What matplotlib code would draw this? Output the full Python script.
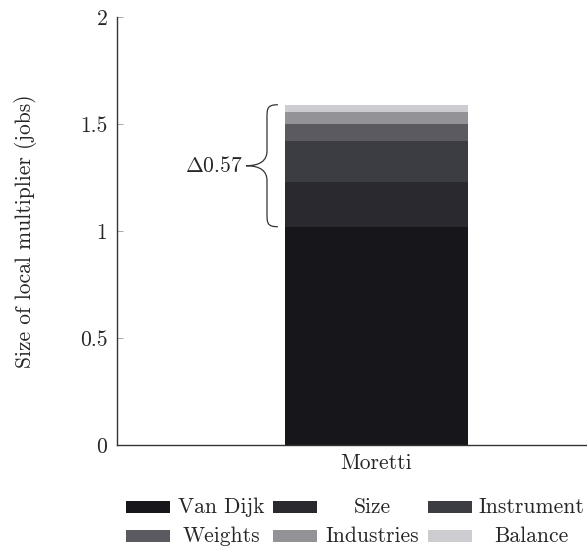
import matplotlib
matplotlib.use("Agg")
import matplotlib.pyplot as plt
from matplotlib.patches import Rectangle, PathPatch
from matplotlib.path import Path
import numpy as np

plt.rcParams['font.family'] = ['cmr10']
plt.rcParams['mathtext.fontset'] = 'cm'
plt.rcParams['axes.unicode_minus'] = False
plt.rcParams['axes.formatter.use_mathtext'] = True

# stacked decomposition of the local multiplier
category = "Moretti"
components = ["Van Dijk", "Size", "Instrument", "Weights", "Industries", "Balance"]
values = [1.02, 0.21, 0.19, 0.08, 0.055, 0.035]
colors = ["#16161b", "#29292f", "#3c3c43", "#5a5a60", "#939397", "#cdcdd1"]
delta_label = r"$\Delta$0.57"

yticks = [0, 0.5, 1, 1.5, 2]
yticklabels = ["0", "0.5", "1", "1.5", "2"]

ink = "#262626"
fs = 15.5

fig = plt.figure(figsize=(5.87, 5.5), dpi=100)
ax = fig.add_axes([117 / 587, 105 / 550, 519 / 587, 428 / 550])

bottoms = np.concatenate([[0], np.cumsum(values)[:-1]])
for v, b, c in zip(values, bottoms, colors):
    ax.bar(0, v, bottom=b, width=0.705, color=c, linewidth=0)

ax.set_xlim(-1, 1)
ax.set_ylim(0, 2)
ax.set_xticks([0])
ax.set_xticklabels([category], fontsize=fs, color=ink)
ax.set_yticks(yticks)
ax.set_yticklabels(yticklabels, fontsize=fs, color=ink)
ax.tick_params(axis='y', direction='in', length=4, width=0.6, color='#999999', pad=7)
ax.tick_params(axis='x', length=0, pad=6)
for side in ['top', 'right']:
    ax.spines[side].set_visible(False)
for side in ['left', 'bottom']:
    ax.spines[side].set_color('#333333')
    ax.spines[side].set_linewidth(1.0)

ax.set_ylabel("Size of local multiplier (jobs)", fontsize=fs, color=ink)
ax.yaxis.set_label_coords(-0.154, 0.5)

# curly brace spanning everything above the first component
y0 = values[0]
y1 = sum(values)
ym = (y0 + y1) / 2
x_tip, x_mid, x_cusp = -0.380, -0.422, -0.503
verts = [
    (x_tip, y1),
    (x_mid - 0.002, y1), (x_mid, y1 - 0.02), (x_mid, y1 - 0.07),
    (x_mid, ym + 0.07),
    (x_mid, ym + 0.025), (x_mid - 0.025, ym), (x_cusp, ym),
    (x_mid - 0.025, ym), (x_mid, ym - 0.025), (x_mid, ym - 0.07),
    (x_mid, y0 + 0.07),
    (x_mid, y0 + 0.02), (x_mid - 0.002, y0), (x_tip, y0),
]
codes = [Path.MOVETO,
         Path.CURVE4, Path.CURVE4, Path.CURVE4,
         Path.LINETO,
         Path.CURVE4, Path.CURVE4, Path.CURVE4,
         Path.CURVE4, Path.CURVE4, Path.CURVE4,
         Path.LINETO,
         Path.CURVE4, Path.CURVE4, Path.CURVE4]
ax.add_patch(PathPatch(Path(verts, codes), facecolor='none', edgecolor='#333333', lw=0.9))
ax.annotate(delta_label, xy=(x_cusp, ym), xytext=(-2, 0), textcoords='offset points',
            ha='right', va='center', fontsize=fs, color=ink)

# legend: 3 columns, text centred in each column
patch_x = [126, 273, 428]
text_cx = [221, 372, 531]
row_y = [507, 536]
for i, (name, c) in enumerate(zip(components, colors)):
    row, col = divmod(i, 3)
    yc = row_y[row]
    fig.patches.append(Rectangle((patch_x[col] / 587, (550 - yc - 6) / 550), 44 / 587, 12 / 550,
                                 transform=fig.transFigure, facecolor=c, edgecolor='none'))
    fig.text(text_cx[col] / 587, (550 - yc) / 550, name, ha='center', va='center',
             fontsize=fs, color=ink)

fig.savefig("out.png", dpi=100)
